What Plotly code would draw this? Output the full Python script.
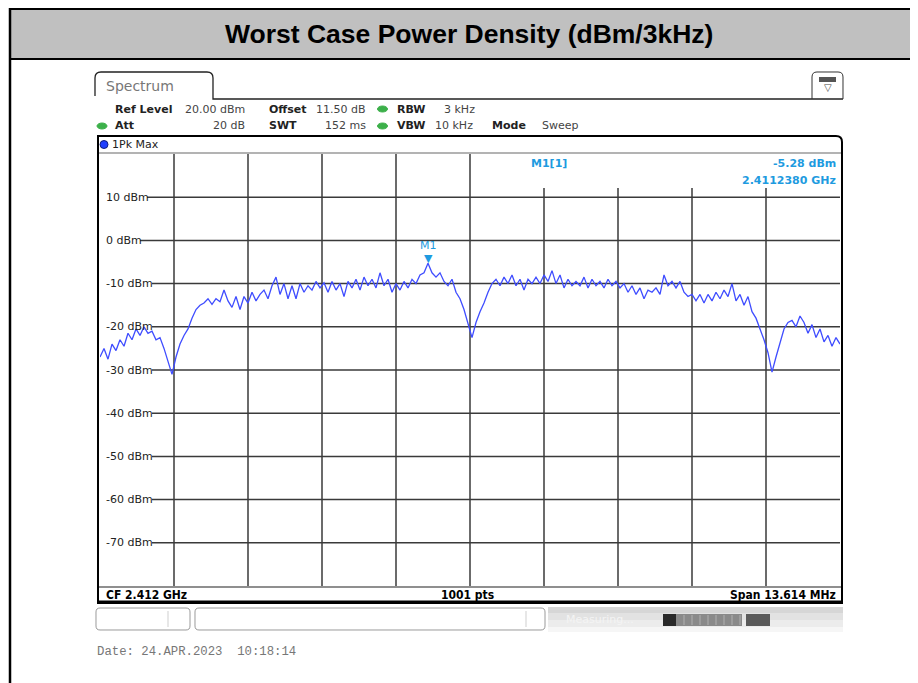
import numpy as np
import plotly.graph_objects as go

# page body has an 8px margin; figure is drawn in the remaining area
PAGE_OFF = 8
W, H = 910, 675

# ---------------- data ----------------
chart_title = "Worst Case Power Density (dBm/3kHz)"
center_freq_ghz = 2.412
span_mhz = 13.614
n_sweep_points = 1001
level_range_dbm = [-80, 20]
level_ticks_dbm = [10, 0, -10, -20, -30, -40, -50, -60, -70]
level_tick_labels = ["10 dBm", "0 dBm", "-10 dBm", "-20 dBm", "-30 dBm",
                     "-40 dBm", "-50 dBm", "-60 dBm", "-70 dBm"]
n_freq_divisions = 10

trace_dbm = [
    -27, -25, -27.5, -24, -25.5, -23, -24.5, -21.5, -23, -20.5,
    -22, -20, -21.5, -21, -23, -22.5, -25, -28, -31, -27,
    -24, -22, -20.5, -18, -16, -15, -14.5, -13.5, -14.8, -13.5,
    -14.2, -11.5, -14, -15.5, -13, -16, -13, -14.5, -12, -14,
    -12.5, -11.5, -13.5, -10.5, -8.5, -12.5, -10, -13.5, -10.5, -13.5,
    -10, -12, -10.5, -11.5, -9.5, -11, -9.8, -12, -9.5, -11.5,
    -10, -13, -9.5, -11, -9, -11.5, -8.5, -10.5, -9, -11,
    -7.5, -10.5, -9, -12, -10, -11.5, -9.5, -11, -9, -10,
    -8, -7.5, -5.3, -7.5, -8.5, -7.5, -9.5, -10.5, -9, -12,
    -13.5, -16, -19, -22.5, -19, -16.5, -14.5, -12, -10, -9,
    -10.5, -8.5, -10, -8, -10.5, -9, -11.5, -9, -10, -8.5,
    -10, -8, -9.5, -7, -10, -8, -11, -9, -10.5, -9.5,
    -10.5, -8.5, -11, -9, -10.5, -9.5, -11, -9, -10.5, -9.5,
    -11, -10, -12, -10.5, -12.5, -11, -13.5, -11.5, -12, -11,
    -12.5, -8, -10.5, -9.5, -11, -9.5, -12, -13, -12.5, -14,
    -12.5, -14.5, -12.5, -14, -12, -13.5, -11.5, -13, -10, -14,
    -12.5, -15, -13, -16.5, -18, -20.5, -23, -26, -30.5, -27,
    -24, -20.5, -19, -18.5, -20, -17.5, -19, -21.5, -19.5, -22.5,
    -20.5, -23.5, -22, -24.5, -22.5, -24,
]

marker_name = "M1"
marker_freq_ghz = 2.4112380
marker_level_dbm = -5.28

ref_level_text = "20.00 dBm"
offset_text = "11.50 dB"
rbw_text = "3 kHz"
att_text = "20 dB"
swt_text = "152 ms"
vbw_text = "10 kHz"
mode_text = "Sweep"
date_text = "Date: 24.APR.2023  10:18:14"

# ---------------- derived ----------------
f_start = center_freq_ghz * 1000 - span_mhz / 2
f_stop = center_freq_ghz * 1000 + span_mhz / 2
freq_mhz = np.linspace(f_start, f_stop, len(trace_dbm))


def X(x):
    return (x - PAGE_OFF) / W


def Y(y):
    return 1 - (y - PAGE_OFF) / H


shapes = []
ann = []

INST = "DejaVu Sans"
COND = "DejaVu Sans Condensed"
GRID = "#3a3a3a"
MK = "#1e9be0"


def rect(x0, y0, x1, y1, fill=None, line=None, lw=1, layer="above"):
    shapes.append(dict(type="rect", xref="paper", yref="paper",
                       x0=X(x0), x1=X(x1), y0=Y(y1), y1=Y(y0),
                       fillcolor=fill if fill else "rgba(0,0,0,0)",
                       line=dict(color=line if line else "rgba(0,0,0,0)", width=lw if line else 0),
                       layer=layer))


def seg(x0, y0, x1, y1, color, lw=1, layer="above"):
    shapes.append(dict(type="line", xref="paper", yref="paper",
                       x0=X(x0), x1=X(x1), y0=Y(y0), y1=Y(y1),
                       line=dict(color=color, width=lw), layer=layer))


def path(pts, color, lw=1, fill=None, layer="above"):
    d = ""
    for p in pts:
        if isinstance(p, str):
            d += " " + p
        else:
            d += " %.5f,%.5f" % (X(p[0]), Y(p[1]))
    shapes.append(dict(type="path", xref="paper", yref="paper", path=d.strip(),
                       line=dict(color=color, width=lw),
                       fillcolor=fill if fill else "rgba(0,0,0,0)", layer=layer))


def ellipse(cx, cy, rx, ry, fill, line=None):
    shapes.append(dict(type="circle", xref="paper", yref="paper",
                       x0=X(cx - rx), x1=X(cx + rx), y0=Y(cy + ry), y1=Y(cy - ry),
                       fillcolor=fill, line=dict(color=line if line else fill, width=1)))


def txt(x, y, s, size=11, color="#222222", xanchor="left", family=INST, bold=False):
    ann.append(dict(x=X(x), y=Y(y), xref="paper", yref="paper",
                    text=("<b>%s</b>" % s) if bold else s, showarrow=False,
                    xanchor=xanchor, yanchor="middle",
                    font=dict(size=size, color=color, family=family)))


# ---------- page header ----------
rect(10, 9, 918, 59, fill="#c0c0c0")
seg(10, 9, 918, 9, "#000000", 2)
seg(10, 59, 918, 59, "#000000", 2)
seg(10, 8, 10, 683, "#000000", 2.5)
txt(469, 34, chart_title, size=26.5, color="#000000", xanchor="center",
    family="Liberation Sans", bold=True)

# ---------- spectrum tab ----------
path(["M", (95, 96), "L", (95, 78), "Q", (95, 72), (101, 72), "L", (207, 72),
      "Q", (213, 72), (213, 78), "L", (213, 99), "L", (843, 99)], "#222222", 1.3)
txt(104, 86, "Spectrum", size=14, color="#777777")
path(["M", (812, 99), "L", (812, 77), "Q", (812, 72), (817, 72), "L", (838, 72),
      "Q", (843, 72), (843, 77), "L", (843, 99)], "#333333", 1)
rect(819, 77, 836, 82, fill="#555555")
txt(827.5, 88, "▽", size=10, color="#444444", xanchor="center")

# ---------- info rows ----------
r1, r2 = 109, 126
txt(113, r1, "Ref Level", bold=True)
txt(183, r1, ref_level_text, color="#444444")
txt(267, r1, "Offset", bold=True)
txt(368, r1, offset_text, color="#444444", xanchor="right")
ellipse(382.5, r1, 5, 3, "#3cb04a")
txt(395, r1, "RBW", bold=True)
txt(442, r1, rbw_text, color="#444444")

ellipse(102, r2, 5, 3, "#3cb04a")
txt(113, r2, "Att", bold=True)
txt(247, r2, att_text, color="#444444", xanchor="right")
txt(267, r2, "SWT", bold=True)
txt(368, r2, swt_text, color="#444444", xanchor="right")
ellipse(382.5, r2, 5, 3, "#3cb04a")
txt(395, r2, "VBW", bold=True)
txt(433, r2, vbw_text, color="#444444")
txt(490, r2, "Mode", bold=True)
txt(540, r2, mode_text, color="#444444")

# ---------- diagram frame ----------
path(["M", (98, 603), "L", (98, 136), "L", (836, 136), "Q", (842, 136), (842, 142),
      "L", (842, 603), "Z"], "#000000", 2)
seg(98, 602, 842, 602, "#000000", 3)
seg(99, 153, 841, 153, "#9a9a9a", 1.5)
seg(99, 587, 841, 587, "#6a6a6a", 1.5)
ellipse(104, 144.5, 4, 4, "#2040ff", "#102080")
txt(110, 144.5, "1Pk Max", size=11, color="#222222")

txt(104, 594.5, "CF 2.412 GHz", size=12, color="#000000", family=COND, bold=True)
txt(467, 594.5, "%d pts" % n_sweep_points, size=12, color="#000000", xanchor="center", family=COND, bold=True)
txt(838, 594.5, "Span %.3f MHz" % span_mhz, size=12, color="#000000", xanchor="right", family=COND, bold=True)

# ---------- grid ----------
step = (f_stop - f_start) / n_freq_divisions
for k in range(1, n_freq_divisions):
    top = 154 if k <= 5 else 188
    shapes.append(dict(type="line", xref="x", yref="paper",
                       x0=f_start + k * step, x1=f_start + k * step,
                       y0=Y(586), y1=Y(top), line=dict(color=GRID, width=1.5), layer="below"))

for v, lab in zip(level_ticks_dbm, level_tick_labels):
    n_dig = sum(c.isdigit() for c in lab)
    wlab = 7 * n_dig + (5 if lab.startswith("-") else 0) + 29
    shapes.append(dict(type="line", xref="paper", yref="y",
                       x0=X(104 + wlab), x1=X(840), y0=v, y1=v,
                       line=dict(color=GRID, width=1.5), layer="below"))
    ann.append(dict(x=X(104), y=v, xref="paper", yref="y", text=lab, showarrow=False,
                    xanchor="left", yanchor="middle",
                    font=dict(size=11, color="#222222", family=INST)))

# ---------- marker readout ----------
txt(549, 164, "M1[1]", size=11, color=MK, xanchor="center", bold=True)
txt(838, 164, "%.2f dBm" % marker_level_dbm, size=11, color=MK, xanchor="right", bold=True)
txt(838, 181, "%.7f GHz" % marker_freq_ghz, size=11, color=MK, xanchor="right", bold=True)

ann.append(dict(x=marker_freq_ghz * 1000, y=marker_level_dbm, xref="x", yref="y",
                text="▼", showarrow=False, xanchor="center", yanchor="bottom",
                yshift=-4, font=dict(size=11, color=MK, family=INST)))
ann.append(dict(x=marker_freq_ghz * 1000, y=marker_level_dbm, xref="x", yref="y",
                text=marker_name, showarrow=False, xanchor="center", yanchor="bottom",
                yshift=9, font=dict(size=11, color=MK, family=INST)))

# ---------- status bar ----------
path(["M", (100, 608), "L", (186, 608), "Q", (190, 608), (190, 612), "L", (190, 626),
      "Q", (190, 630), (186, 630), "L", (100, 630), "Q", (96, 630), (96, 626),
      "L", (96, 612), "Q", (96, 608), (100, 608), "Z"], "#9a9a9a", 1)
seg(168, 611, 168, 627, "#cfcfcf", 1)
path(["M", (199, 608), "L", (541, 608), "Q", (545, 608), (545, 612), "L", (545, 626),
      "Q", (545, 630), (541, 630), "L", (199, 630), "Q", (195, 630), (195, 626),
      "L", (195, 612), "Q", (195, 608), (199, 608), "Z"], "#9a9a9a", 1)
seg(526, 611, 526, 627, "#cfcfcf", 1)
rect(548, 607, 843, 613, fill="#d6d6d6")
rect(548, 613, 843, 620, fill="#e2e2e2")
rect(548, 620, 843, 627, fill="#ececec")
rect(548, 627, 843, 632, fill="#f6f6f6")
txt(600, 619, "Measuring...", size=11, color="#f4f4f4", xanchor="center")
rect(663, 614, 742, 626, fill="#8a8a8a")
rect(663, 614, 676, 626, fill="#2a2a2a")
for xx in range(684, 742, 8):
    seg(xx, 615, xx, 625, "#b0b0b0", 1)
rect(746, 614, 770, 626, fill="#5a5a5a")

txt(95, 652, date_text, size=12.3, color="#777777", family="Liberation Mono")

# ---------- figure ----------
fig = go.Figure()
fig.add_trace(go.Scatter(x=freq_mhz, y=trace_dbm, mode="lines",
                         line=dict(color="#3f4dff", width=1.3), hoverinfo="skip",
                         showlegend=False))

fig.update_layout(
    width=W, height=H,
    margin=dict(l=0, r=0, t=0, b=0),
    paper_bgcolor="#ffffff", plot_bgcolor="rgba(0,0,0,0)",
    showlegend=False,
    xaxis=dict(domain=[X(100), X(840)], range=[f_start, f_stop], visible=False,
               showgrid=False, zeroline=False, fixedrange=True),
    yaxis=dict(domain=[Y(586), Y(154)], range=level_range_dbm, visible=False,
               showgrid=False, zeroline=False, fixedrange=True),
    shapes=shapes, annotations=ann,
)

fig.write_html("out.html")
